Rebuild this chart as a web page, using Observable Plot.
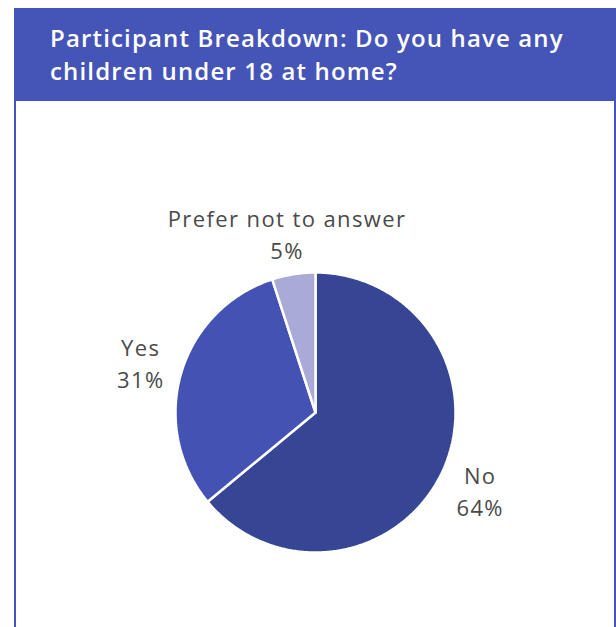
<!DOCTYPE html>
<html>
<head>
<meta charset="utf-8">
<script src="https://cdn.jsdelivr.net/npm/d3@7"></script>
<script src="https://cdn.jsdelivr.net/npm/@observablehq/plot@0.6"></script>
<style>
  html, body { margin: 0; padding: 0; background: #fff; width: 616px; height: 627px; overflow: hidden; }
  #card { position: absolute; left: 14px; top: 8px; width: 598px; height: 640px;
          border-left: 2px solid #4555b7; border-right: 2px solid #4555b7; }
  #header { position: absolute; left: 14px; top: 8px; width: 602px; height: 93px; background: #4555b7;
            color: #fff; font-family: "Open Sans", sans-serif; font-weight: 600; font-size: 24px;
            letter-spacing: 1.15px; line-height: 33px; box-sizing: border-box; padding: 13px 0 0 36px; white-space: nowrap; }
  #chart { position: absolute; left: 0; top: 101px; }
</style>
</head>
<body>
<div id="card"></div>
<div id="header">Participant Breakdown: Do you have any<br>children under 18 at home?</div>
<div id="chart"></div>
<script>
const categories = ["No", "Yes", "Prefer not to answer"];
const values = [64, 31, 5];
const colors = ["#364594", "#4453b3", "#a9aad6"];

const W = 616, H = 526, cx = 315, cy = 311, R = 140;
const pie = d3.pie().sort(null).value(d => d.value)(categories.map((c, i) => ({category: c, value: values[i]})));

// polygon points for each slice (angles clockwise from 12 o'clock)
const slicePts = [];
for (const s of pie) {
  const n = Math.max(2, Math.ceil((s.endAngle - s.startAngle) / 0.01));
  slicePts.push({category: s.data.category, x: 0, y: 0});
  for (let k = 0; k <= n; k++) {
    const a = s.startAngle + (s.endAngle - s.startAngle) * k / n;
    slicePts.push({category: s.data.category, x: Math.sin(a), y: Math.cos(a)});
  }
  slicePts.push({category: s.data.category, x: 0, y: 0});
}
const labels = pie.map(s => {
  const a = (s.startAngle + s.endAngle) / 2;
  return {category: s.data.category, text: `${s.data.category}\n${s.data.value}%`, x: 1.3 * Math.sin(a), y: 1.3 * Math.cos(a)};
});

const chart = Plot.plot({
  width: W, height: H, margin: 0,
  x: {domain: [-cx / R, (W - cx) / R], axis: null},
  y: {domain: [-(H - cy) / R, cy / R], axis: null},
  color: {domain: categories, range: colors},
  style: {background: "transparent", fontFamily: "'Open Sans', sans-serif", letterSpacing: "1.4px"},
  marks: [
    Plot.line(slicePts, {x: "x", y: "y", z: "category", fill: "category", stroke: "#fff", strokeWidth: 2.5, strokeLinejoin: "miter", curve: "linear"}),
    Plot.text(labels, {x: "x", y: "y", text: "text", fill: "#4a4a4a", fontSize: 22, fontWeight: 400, lineHeight: 1.45, textAnchor: "middle", lineAnchor: "middle"})
  ]
});
document.getElementById("chart").appendChild(chart);
</script>
</body>
</html>
